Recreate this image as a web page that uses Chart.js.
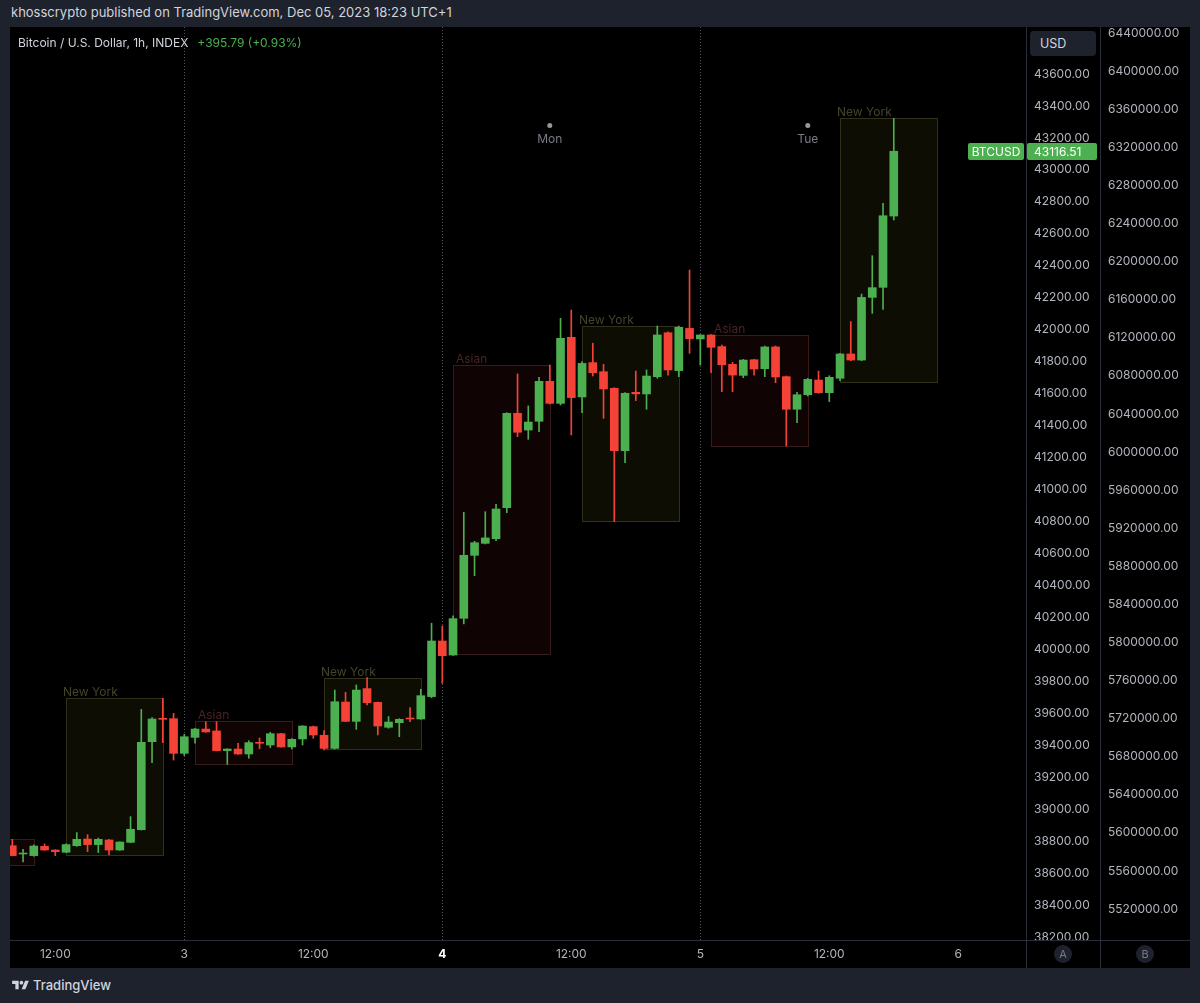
<!DOCTYPE html>
<html>
<head>
<meta charset="utf-8">
<script src="https://cdn.jsdelivr.net/npm/chart.js@4.4.0/dist/chart.umd.min.js"></script>
<style>
html,body{margin:0;padding:0;width:1200px;height:1003px;overflow:hidden;background:#1e222d;font-family:Inter,"Noto Sans",sans-serif;}
#hdr{position:absolute;left:11px;top:4px;font-size:13px;color:#d1d4dc;white-space:nowrap;}
#panel{position:absolute;left:10px;top:27px;width:1180px;height:941px;background:#000;}
#panel canvas{position:absolute;left:0;top:0;}
#legend{position:absolute;left:8px;top:8px;font-size:12px;color:#d1d4dc;white-space:nowrap;}
#legend .chg{color:#4caf50;margin-left:9px;}
#usd{position:absolute;left:1020px;top:4px;width:66px;height:25px;line-height:25px;border-radius:4px;background:#1e222d;color:#d1d4dc;font-size:12.5px;box-sizing:border-box;padding-left:10px;}
#footer{position:absolute;left:12px;top:976px;height:18px;display:flex;align-items:center;color:#d1d4dc;font-size:13px;font-weight:500;}
#footer svg{margin-right:4px;}
</style>
</head>
<body>
<div id="hdr">khosscrypto published on TradingView.com, Dec 05, 2023 18:23 UTC+1</div>
<div id="panel">
  <canvas id="c" width="1180" height="941"></canvas>
  <div id="legend">Bitcoin / U.S. Dollar, 1h, INDEX<span class="chg">+395.79 (+0.93%)</span></div>
  <div id="usd">USD</div>
</div>
<div id="footer"><svg width="17" height="13" viewBox="0 0 36 28"><path d="M14 22H7V11H0V4h14v18z" fill="#d1d4dc"/><circle cx="20" cy="8" r="4" fill="#d1d4dc"/><path d="M28 4h8l-7.5 18H20.5L28 4z" fill="#d1d4dc"/></svg>TradingView</div>

<script>
// ---- data (hours since Dec 2 00:00, 1h candles) ----
const candleHours = [8,9,10,11,12,13,14,15,16,17,18,19,20,21,22,23,24,25,26,27,28,29,30,31,32,33,34,35,36,37,38,39,40,41,42,43,44,45,46,47,48,49,50,51,52,53,54,55,56,57,58,59,60,61,62,63,64,65,66,67,68,69,70,71,72,73,74,75,76,77,78,79,80,81,82,83,84,85,86,87,88,89,90];
const openP = [38771,38719,38709,38767,38744,38730,38771,38813,38778,38807,
38744,38792,38871,39422,39568,39566,39349,39449,39501,39489,
39366,39376,39345,39416,39401,39472,39389,39439,39516,39462,
39380,39670,39549,39754,39668,39512,39541,39570,39564,39704,
40052,39964,40194,40588,40663,40692,40886,41477,41372,41427,
41677,41539,41952,41579,41794,41737,41633,41243,41608,41598,
41706,41981,41744,42008,41942,41967,41894,41783,41714,41812,
41756,41892,41706,41502,41593,41685,41606,41696,41848,41810,
42202,42265,42711];
const highP = [38811,38748,38776,38782,38746,38782,38853,38840,38819,38811,
38796,38953,39624,39572,39693,39599,39468,39506,39547,39547,
39378,39412,39428,39445,39481,39474,39441,39522,39520,39491,
39745,39731,39777,39823,39670,39579,39566,39635,39750,40163,
40146,40209,40857,40676,40861,40907,41481,41723,41523,41702,
41779,42071,42123,41800,41915,41783,41637,41606,41741,41748,
42023,41986,42023,42373,41969,41969,41904,41796,41814,41814,
41898,41898,41710,41608,41696,41741,41712,41852,42050,42223,
42463,42790,43322];
const lowP = [38707,38669,38705,38742,38709,38728,38767,38734,38728,38715,
38742,38790,38869,39291,39416,39307,39335,39412,39481,39364,
39280,39343,39318,39378,39385,39387,39376,39401,39443,39370,
39376,39547,39499,39652,39464,39506,39453,39547,39562,39697,
39787,39962,40159,40461,40659,40680,40855,41331,41314,41362,
41535,41529,41341,41481,41710,41445,40799,41168,41556,41502,
41696,41716,41706,41852,41779,41731,41612,41612,41700,41716,
41706,41668,41272,41418,41585,41602,41550,41681,41806,41806,
42102,42127,42686];
const closeP = [38709,38725,38769,38744,38734,38778,38811,38778,38811,38744,
38794,38874,39418,39564,39562,39349,39453,39501,39483,39366,
39376,39345,39416,39412,39472,39389,39437,39520,39464,39380,
39672,39549,39745,39666,39520,39545,39562,39564,39710,40052,
39960,40192,40588,40667,40697,40878,41477,41358,41422,41677,
41539,41946,41575,41789,41731,41629,41243,41602,41598,41710,
41967,41748,42015,41944,41967,41890,41781,41716,41810,41754,
41892,41704,41502,41593,41689,41606,41702,41848,41810,42202,
42263,42713,43116.51];

// session boxes
const sessionNames = ['Asian','New York','Asian','New York','Asian','New York','Asian','New York'];
const sessionStart = [1,13,25,37,49,61,73,85];
const sessionEnd   = [10,22,34,46,58,70,82,94];
const sessionHigh  = [38811,39697,39550,39819,41779,42025,41967,43323];
const sessionLow   = [38650,38715,39281,39376,39971,40805,41274,41674];

// axes
const xTickValues = [12,24,36,48,60,72,84,96];
const xTickLabels = ['12:00','3','12:00','4','12:00','5','12:00','6'];
const daySeparators = [24,48,72];
const yTicksA = [38200,38400,38600,38800,39000,39200,39400,39600,39800,40000,40200,40400,40600,40800,41000,41200,41400,41600,41800,42000,42200,42400,42600,42800,43000,43200,43400,43600];
const yTicksB = [5520000,5560000,5600000,5640000,5680000,5720000,5760000,5800000,5840000,5880000,5920000,5960000,6000000,6040000,6080000,6120000,6160000,6200000,6240000,6280000,6320000,6360000,6400000,6440000];
const markerHours = [58,82];
const markerLabels = ['Mon','Tue'];
const symbolName = 'BTCUSD';
const lastPrice = 43116.51;

// ---- styles ----
const UP = '#4caf50', DOWN = '#f44336';
const FONT = 'Inter, "Noto Sans", sans-serif';
const sessionStyle = {
  'New York': {fill:'rgba(40,40,10,0.33)', stroke:'#31311a', text:'#44442a', dx:-3},
  'Asian':    {fill:'rgba(50,10,10,0.33)', stroke:'#381b1b', text:'#4c2323', dx:3}
};
const candleColors = openP.map((o,i) => closeP[i] >= o ? UP : DOWN);

const sessionPlugin = {
  id:'sessions',
  beforeDatasetsDraw(chart){
    const {ctx, chartArea:a, scales:{x, y}} = chart;
    ctx.save();
    ctx.beginPath(); ctx.rect(a.left, a.top, a.right-a.left, a.bottom-a.top); ctx.clip();
    sessionNames.forEach((name,i) => {
      const st = sessionStyle[name];
      const x0 = Math.round(x.getPixelForValue(sessionStart[i]));
      const x1 = Math.round(x.getPixelForValue(sessionEnd[i]));
      const y0 = Math.round(y.getPixelForValue(sessionHigh[i]));
      const y1 = Math.round(y.getPixelForValue(sessionLow[i]));
      ctx.fillStyle = st.fill; ctx.fillRect(x0, y0, x1-x0, y1-y0);
      ctx.strokeStyle = st.stroke; ctx.lineWidth = 1;
      ctx.strokeRect(x0+0.5, y0+0.5, x1-x0, y1-y0);
      ctx.fillStyle = st.text; ctx.font = '12px ' + FONT;
      ctx.textAlign = 'left'; ctx.textBaseline = 'alphabetic';
      ctx.fillText(name, x0 + st.dx, y0 - 2);
    });
    ctx.restore();
  }
};

const overlayPlugin = {
  id:'overlay',
  afterDraw(chart){
    const {ctx, chartArea:a, scales:{x, y}, width, height} = chart;
    const bLeft = chart.scales.y2.left;
    ctx.save();
    // axis row background (hides overflow of lowest price label)
    ctx.fillStyle = '#000';
    ctx.fillRect(a.right, a.bottom, width - a.right, height - a.bottom);
    // separators
    ctx.strokeStyle = '#2a2e39'; ctx.lineWidth = 1;
    ctx.beginPath();
    ctx.moveTo(0, a.bottom + 0.5); ctx.lineTo(width, a.bottom + 0.5);
    ctx.moveTo(a.right + 0.5, 0); ctx.lineTo(a.right + 0.5, height);
    ctx.moveTo(bLeft + 0.5, 0); ctx.lineTo(bLeft + 0.5, height);
    ctx.stroke();
    // Mon / Tue markers
    markerHours.forEach((h,i) => {
      const px = x.getPixelForValue(h);
      ctx.fillStyle = '#9598a1';
      ctx.beginPath(); ctx.arc(px, 98.5, 2.5, 0, Math.PI*2); ctx.fill();
      ctx.fillStyle = '#787b86'; ctx.font = '12px ' + FONT;
      ctx.textAlign = 'center'; ctx.textBaseline = 'middle';
      ctx.fillText(markerLabels[i], px, 112.5);
    });
    // last price labels
    const py = Math.round(y.getPixelForValue(lastPrice));
    ctx.fillStyle = UP;
    ctx.beginPath(); ctx.roundRect(958, py - 8, 56, 17, 2); ctx.fill();
    ctx.beginPath(); ctx.roundRect(a.right + 1, py - 8, 70, 17, 2); ctx.fill();
    ctx.fillStyle = '#ffffff'; ctx.font = '12px ' + FONT;
    ctx.textAlign = 'center'; ctx.textBaseline = 'middle';
    ctx.fillText(symbolName, 986, py + 1);
    ctx.textAlign = 'left';
    ctx.fillText(lastPrice.toFixed(2), a.right + 8, py + 1);
    // A / B buttons
    [['A', (a.right + bLeft)/2], ['B', (bLeft + width)/2]].forEach(([t, cx]) => {
      ctx.fillStyle = '#1e222d';
      ctx.beginPath(); ctx.arc(cx, a.bottom + 14, 9, 0, Math.PI*2); ctx.fill();
      ctx.fillStyle = '#787b86'; ctx.font = '11px ' + FONT;
      ctx.textAlign = 'center'; ctx.textBaseline = 'middle';
      ctx.fillText(t, cx, a.bottom + 14.5);
    });
    ctx.restore();
  }
};

function noPad(s){ s.paddingTop = 0; s.paddingBottom = 0; s.paddingLeft = 0; s.paddingRight = 0; }

new Chart(document.getElementById('c'), {
  type: 'bar',
  data: {
    datasets: [
      {
        label: 'wick',
        data: candleHours.map((h,i) => ({x:h, y:[lowP[i], highP[i]]})),
        backgroundColor: candleColors,
        barThickness: 1, maxBarThickness: 1,
        grouped: false, order: 2, yAxisID: 'y'
      },
      {
        label: 'body',
        data: candleHours.map((h,i) => ({x:h, y:[openP[i], closeP[i]]})),
        backgroundColor: candleColors,
        barThickness: 8, maxBarThickness: 8, minBarLength: 1,
        grouped: false, order: 1, yAxisID: 'y'
      }
    ]
  },
  options: {
    responsive: false, animation: false, devicePixelRatio: 1,
    layout: {padding: 0},
    plugins: {legend: {display: false}, tooltip: {enabled: false}},
    scales: {
      x: {
        type: 'linear', min: 7.786, max: 102.3, offset: false,
        grid: {display: true, offset: false, drawTicks: false, lineWidth: 1,
               color: c => daySeparators.includes(c.tick && c.tick.value) ? '#50535e' : 'rgba(0,0,0,0)'},
        border: {display: false, dash: [1, 2]},
        afterBuildTicks: s => { s.ticks = xTickValues.map(v => ({value: v})); },
        afterFit: s => { s.height = 28; noPad(s); },
        ticks: {
          autoSkip: false, maxRotation: 0, padding: 7,
          color: c => (c.tick && c.tick.value === 48) ? '#ffffff' : '#b2b5be',
          font: c => ({family: FONT, size: 12, weight: (c.tick && c.tick.value === 48) ? 'bold' : 'normal'}),
          callback: (v, i) => xTickLabels[i]
        }
      },
      y: {
        type: 'linear', position: 'right', weight: 0,
        min: 38181, max: 43894, beginAtZero: false,
        grid: {display: true, drawOnChartArea: false, drawTicks: false},
        border: {display: false},
        afterBuildTicks: s => { s.ticks = yTicksA.map(v => ({value: v})); },
        afterFit: s => { s.width = 74; noPad(s); },
        ticks: {padding: 8, color: '#b2b5be', font: {family: FONT, size: 12},
                callback: v => Number(v).toFixed(2)}
      },
      y2: {
        type: 'linear', position: 'right', weight: 1,
        min: 5487519, max: 6446301, beginAtZero: false,
        grid: {display: true, drawOnChartArea: false, drawTicks: false},
        border: {display: false},
        afterBuildTicks: s => { s.ticks = yTicksB.map(v => ({value: v})); },
        afterFit: s => { s.width = 90; noPad(s); },
        ticks: {padding: 8, color: '#b2b5be', font: {family: FONT, size: 12},
                callback: v => Number(v).toFixed(2)}
      }
    }
  },
  plugins: [sessionPlugin, overlayPlugin]
});
</script>
</body>
</html>
